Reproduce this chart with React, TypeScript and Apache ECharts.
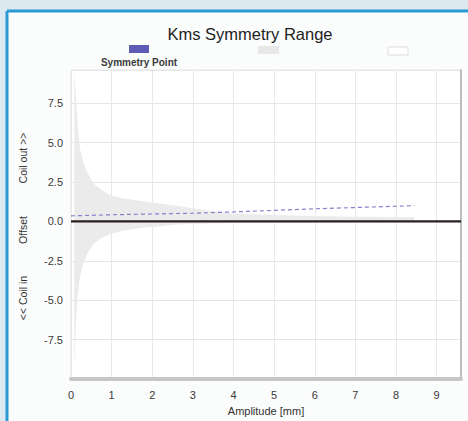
import React, { useEffect, useRef } from "react";
import * as echarts from "echarts";

// ---- data ----
const bandX = [0.08, 0.12, 0.16, 0.22, 0.3, 0.39, 0.55, 0.75, 0.96, 1.3, 1.78, 2.2, 2.6, 3.2, 4, 5, 6, 7, 8.45];
const bandUpper = [9.5, 8.0, 6.2, 4.6, 3.8, 3.15, 2.4, 2.0, 1.65, 1.45, 1.28, 1.12, 1.0, 0.75, 0.5, 0.4, 0.35, 0.3, 0.28];
const bandLower = [-9.3, -6.5, -4.8, -3.5, -2.7, -2.1, -1.45, -1.05, -0.8, -0.58, -0.4, -0.3, -0.2, -0.15, -0.1, -0.08, -0.07, -0.06, -0.05];

const symX = [0, 1, 2, 3, 4, 5, 6, 7, 8, 8.45];
const symY = [0.35, 0.42, 0.47, 0.52, 0.6, 0.7, 0.8, 0.88, 0.96, 1.0];

const zeroX = [0, 9.6];
const zeroY = [0, 0];

const xTicks = [0, 1, 2, 3, 4, 5, 6, 7, 8, 9];
const yTicks = [-7.5, -5, -2.5, 0, 2.5, 5, 7.5];

const TITLE = "Kms Symmetry Range";
const X_NAME = "Amplitude [mm]";
const LEGEND_NAME = "Symmetry Point";
const Y_NAMES = ["Coil out >>", "Offset", "<< Coil in"];

const FONT = "'Liberation Sans', Arial, sans-serif";

export default function App() {
  const ref = useRef<HTMLDivElement>(null);
  useEffect(() => {
    document.body.style.margin = "0";
    const chart = echarts.init(ref.current!, null, { renderer: "svg" });
    const pairs = (xs: number[], ys: number[]) => xs.map((x, i) => [x, ys[i]]);
    const yName = (text: string, y: number) => ({
      type: "text",
      x: 23,
      y,
      rotation: Math.PI / 2,
      style: { text, fontSize: 10.5, fontFamily: FONT, fill: "#333", align: "center", verticalAlign: "middle" },
    });
    chart.setOption({
      animation: false,
      backgroundColor: "#dce9f0",
      textStyle: { fontFamily: FONT },
      graphic: [
        {
          type: "rect",
          z: -100,
          silent: true,
          shape: { x: 7, y: 11, width: 470, height: 420 },
          style: { fill: "#fbfcfc" },
        },
        {
          type: "line",
          z: -90,
          silent: true,
          shape: { x1: 7, y1: 11, x2: 468, y2: 11 },
          style: { stroke: "#2a9ad4", lineWidth: 3 },
        },
        {
          type: "line",
          z: -90,
          silent: true,
          shape: { x1: 7, y1: 11, x2: 7, y2: 421 },
          style: { stroke: "#2a9ad4", lineWidth: 3 },
        },
        {
          type: "text",
          x: 250,
          y: 34,
          style: {
            text: TITLE,
            fontSize: 16.5,
            fontFamily: FONT,
            fill: "#1e1e1e",
            align: "center",
            verticalAlign: "middle",
          },
        },
        {
          type: "rect",
          shape: { x: 129, y: 45, width: 20, height: 8 },
          style: { fill: "#5c5cb4" },
        },
        {
          type: "text",
          x: 139,
          y: 62,
          style: {
            text: LEGEND_NAME,
            fontSize: 10,
            fontWeight: "bold",
            fontFamily: FONT,
            fill: "#3a3a3a",
            align: "center",
            verticalAlign: "middle",
          },
        },
        {
          type: "rect",
          shape: { x: 258, y: 46, width: 21, height: 8 },
          style: { fill: "#e8e8e8" },
        },
        {
          type: "rect",
          shape: { x: 388, y: 47, width: 20, height: 8 },
          style: { fill: "#ffffff", stroke: "#dddddd", lineWidth: 1 },
        },
        yName(Y_NAMES[0], 158),
        yName(Y_NAMES[1], 230),
        yName(Y_NAMES[2], 298),
      ],
      grid: {
        left: 71,
        right: 7,
        top: 70,
        bottom: 39,
        show: true,
        backgroundColor: "#ffffff",
        borderColor: "#e6e6e6",
        borderWidth: 1,
      },
      xAxis: {
        type: "value",
        min: 0,
        max: 9.6,
        interval: 1,
        name: X_NAME,
        nameLocation: "middle",
        nameGap: 23,
        nameTextStyle: { fontSize: 11, color: "#333", fontFamily: FONT },
        axisLine: { show: true, onZero: false, lineStyle: { color: "#c6c6c6", width: 4 } },
        axisTick: { show: false },
        axisLabel: {
          fontSize: 11,
          color: "#3a3a3a",
          margin: 10,
          formatter: (v: number) => (xTicks.includes(v) ? String(v) : ""),
        },
        splitLine: { show: true, lineStyle: { color: "#e8e8e8", width: 1 } },
      },
      yAxis: [
        {
          type: "value",
          min: -10,
          max: 9.6,
          interval: 2.5,
          axisLine: { show: false },
          axisTick: { show: false },
          axisLabel: {
            fontSize: 11,
            color: "#3a3a3a",
            margin: 8,
            formatter: (v: number) => (yTicks.includes(v) ? v.toFixed(1) : ""),
          },
          splitLine: { show: true, lineStyle: { color: "#e6e6e6", width: 1 } },
        },
        {
          type: "value",
          position: "right",
          min: -10,
          max: 9.6,
          interval: 2.5,
          axisLine: { show: true, lineStyle: { color: "#bdbdbd", width: 2 } },
          axisTick: { show: false },
          axisLabel: { show: false },
          splitLine: { show: false },
        },
      ],
      series: [
        {
          name: "Range Upper",
          type: "line",
          data: pairs(bandX, bandUpper),
          symbol: "none",
          lineStyle: { width: 0 },
          areaStyle: { color: "#ebebeb", opacity: 1 },
          z: 1,
        },
        {
          name: "Range Lower",
          type: "line",
          data: pairs(bandX, bandLower),
          symbol: "none",
          lineStyle: { width: 0 },
          areaStyle: { color: "#ebebeb", opacity: 1 },
          z: 1,
        },
        {
          name: "Offset",
          type: "line",
          data: pairs(zeroX, zeroY),
          symbol: "none",
          lineStyle: { color: "#2b1e1e", width: 2.2 },
          z: 3,
        },
        {
          name: LEGEND_NAME,
          type: "line",
          data: pairs(symX, symY),
          symbol: "none",
          lineStyle: { color: "#8484cc", width: 1.2, type: [4, 3] },
          z: 4,
        },
      ],
    });
    return () => chart.dispose();
  }, []);
  return <div ref={ref} style={{ width: 468, height: 421 }} />;
}
